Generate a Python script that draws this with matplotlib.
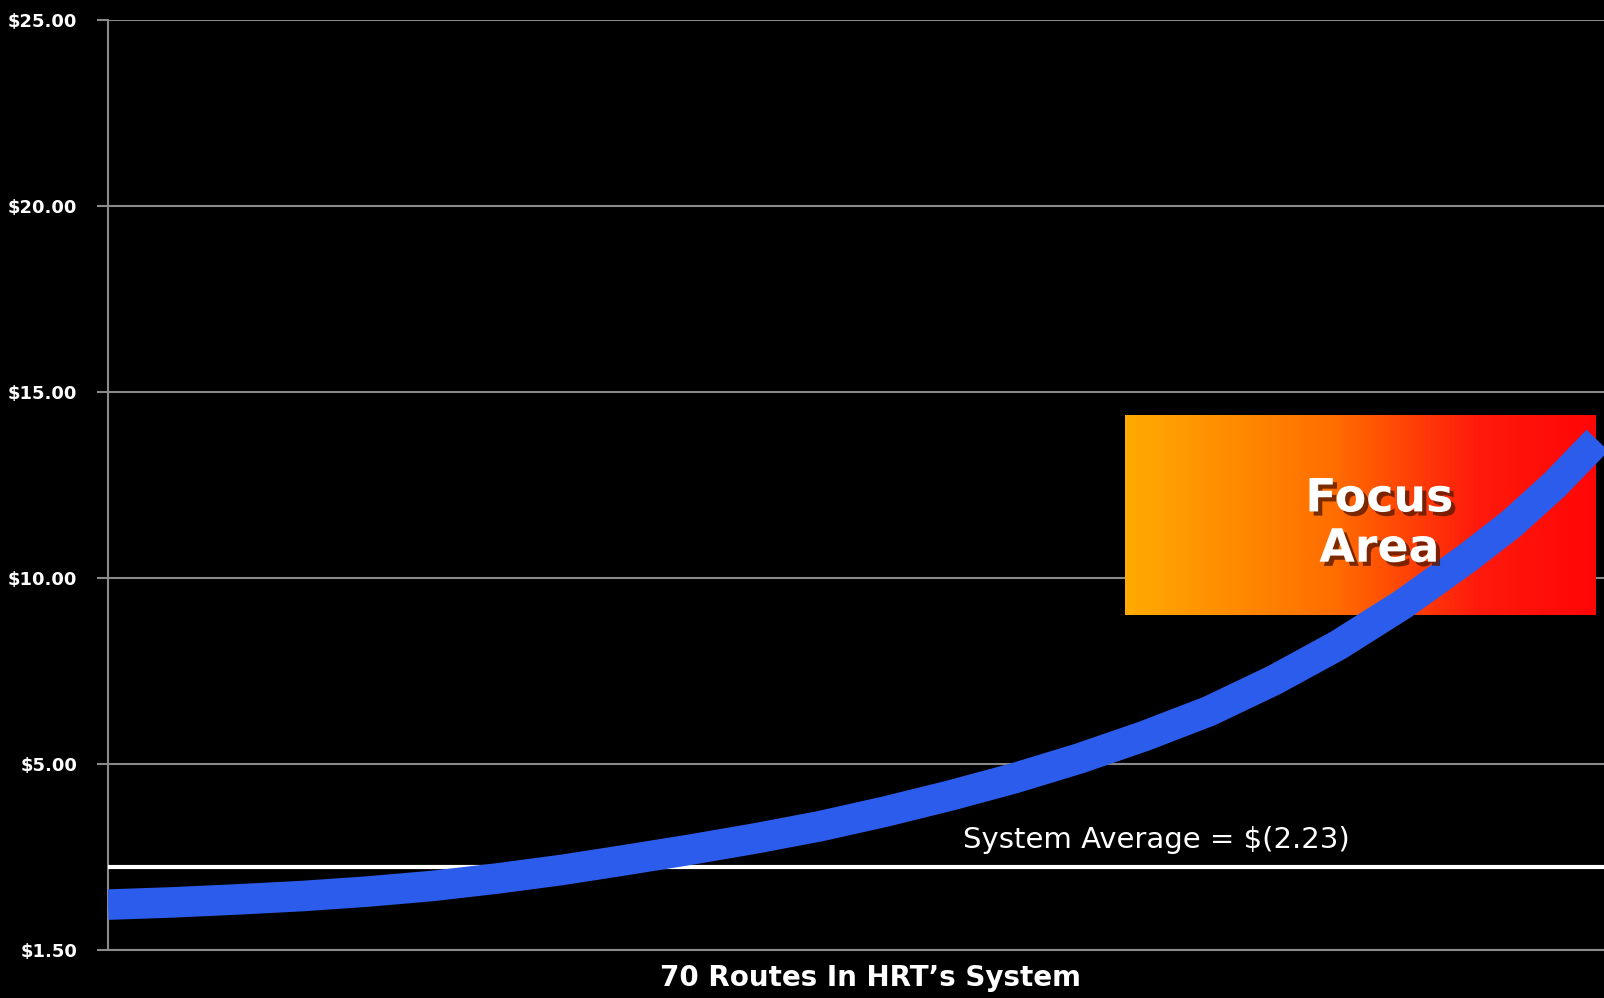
import numpy as np
import matplotlib
matplotlib.use("Agg")
import matplotlib.pyplot as plt
import matplotlib.patheffects as pe
from matplotlib.colors import LinearSegmentedColormap

# cost per route, sorted
routes = [1, 4, 7, 10, 13, 16, 19, 22, 25, 28, 31, 34, 37, 40, 43, 46, 49,
          52, 55, 58, 61, 64, 66, 68, 70]
cost = [1.22, 1.28, 1.36, 1.45, 1.57, 1.72, 1.92, 2.15, 2.42, 2.70, 3.0, 3.33,
        3.72, 4.15, 4.62, 5.15, 5.75, 6.42, 7.25, 8.2, 9.3, 10.55, 11.45, 12.5, 13.7]

system_avg = 2.23
yticks = [0, 5, 10, 15, 20, 25]
ytick_labels = ["$1.50", "$5.00", "$10.00", "$15.00", "$20.00", "$25.00"]

# focus area box (routes, dollars)
focus_x = (48.1, 69.9)
focus_y = (9.0, 14.35)

fig = plt.figure(figsize=(16.04, 9.98), dpi=100, facecolor="black")
ax = fig.add_axes([108 / 1604, 48 / 998, 1 - 108 / 1604, 930 / 998])
ax.set_facecolor("black")
ax.set_xlim(1, 70.3)
ax.set_ylim(0, 25)

# gradient box
cmap = LinearSegmentedColormap.from_list(
    "focus", [(0, "#ffab00"), (0.45, "#ff6c00"), (0.75, "#ff1a0c"), (1, "#ff0606")])
grad = np.linspace(0, 1, 256).reshape(1, -1)
ax.imshow(grad, cmap=cmap, extent=[focus_x[0], focus_x[1], focus_y[0], focus_y[1]],
          aspect="auto", zorder=2)

ax.axhline(system_avg, color="white", lw=3, zorder=3)
ax.plot(routes, cost, color="#2c5cec", lw=22, solid_capstyle="butt",
        solid_joinstyle="round", zorder=4)

ax.text(59.9, 11.45, "Focus\nArea", color="white", fontsize=33, fontweight="heavy",
        ha="center", va="center", linespacing=1.15, zorder=5,
        path_effects=[pe.withSimplePatchShadow(offset=(3, -3), shadow_rgbFace="#5a1a00", alpha=0.8)])

ax.text(40.6, system_avg + 0.35, "System Average = $(2.23)", color="white",
        fontsize=21, ha="left", va="bottom", zorder=5)

ax.set_yticks(yticks)
ax.set_yticklabels(ytick_labels, color="white", fontsize=13, fontweight="bold")
ax.set_xticks([])
ax.grid(axis="y", color="#8a8a8a", lw=1.5)
ax.set_axisbelow(True)
ax.tick_params(axis="y", colors="#8a8a8a", length=8, width=1.5, pad=14, labelcolor="white")
for s in ["top", "right"]:
    ax.spines[s].set_visible(False)
ax.spines["left"].set_color("#8a8a8a")
ax.spines["left"].set_linewidth(1.5)
ax.spines["bottom"].set_color("#8a8a8a")
ax.spines["bottom"].set_linewidth(1.5)

fig.text(871 / 1604, 1 - 978 / 998, "70 Routes In HRT\u2019s System", color="white",
         fontsize=20, fontweight="bold", ha="center", va="center")

fig.savefig("out.png", dpi=100, facecolor="black")
